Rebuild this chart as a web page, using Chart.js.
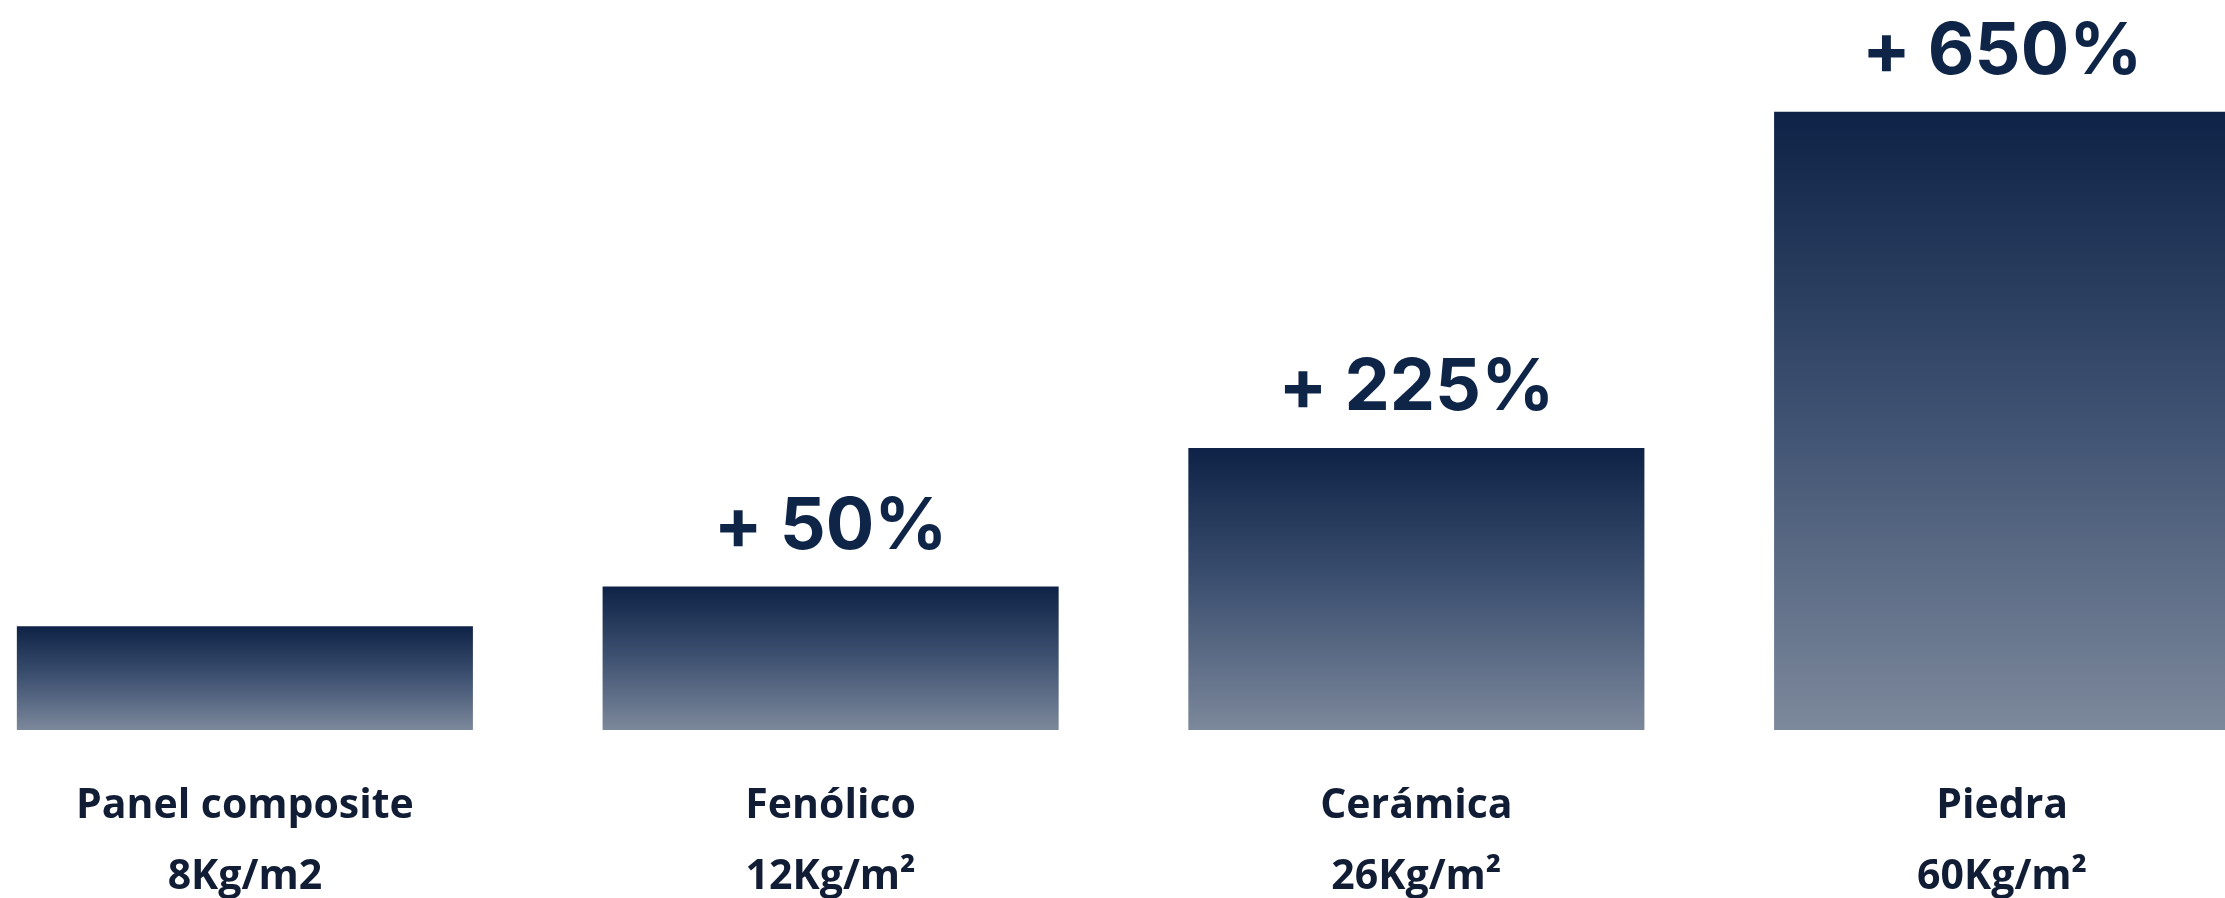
<!DOCTYPE html>
<html lang="es">
<head>
<meta charset="utf-8">
<title>Peso por m² de fachada</title>
<script src="https://cdn.jsdelivr.net/npm/chart.js@4.4.1/dist/chart.umd.min.js"></script>
<style>
  html, body { margin: 0; padding: 0; background: #fff; }
  #frame { position: relative; width: 2225px; height: 898px; overflow: hidden; }
  /* el área del gráfico es algo más ancha que la ventana: la última barra queda cortada */
  #wrap { position: absolute; left: -48px; top: 0; width: 2343px; height: 898px; }
</style>
</head>
<body>
<div id="frame"><div id="wrap"><canvas id="chart"></canvas></div></div>
<script>
  // datos
  const materials = ["Panel composite", "Fenólico", "Cerámica", "Piedra"];
  const weightLabels = ["8Kg/m2", "12Kg/m²", "26Kg/m²", "60Kg/m²"];
  const weights = [8, 12, 26, 60];
  const increaseLabels = ["", "+ 50%", "+ 225%", "+ 650%"];

  const AXIS_MIN = -2.5;
  const AXIS_MAX = 71.3;

  const NAVY = "#0d2246";
  const GREY = "#7c889b";

  function barGradient(ctx) {
    const chart = ctx.chart;
    if (!chart.chartArea || ctx.type !== "data") return NAVY;
    const y = chart.scales.y;
    const top = y.getPixelForValue(weights[ctx.dataIndex]);
    const bottom = y.getPixelForValue(AXIS_MIN);
    const g = chart.ctx.createLinearGradient(0, top, 0, bottom);
    g.addColorStop(0, NAVY);
    g.addColorStop(0.5, "#3f5272");
    g.addColorStop(1, GREY);
    return g;
  }

  // etiquetas "+ x%" encima de cada barra
  const increaseLabelPlugin = {
    id: "increaseLabels",
    afterDatasetsDraw(chart) {
      const ctx = chart.ctx;
      const meta = chart.getDatasetMeta(0);
      ctx.save();
      ctx.fillStyle = "#0f2548";
      ctx.font = "700 72px Inter";
      ctx.textAlign = "center";
      ctx.textBaseline = "alphabetic";
      meta.data.forEach((bar, i) => {
        if (!increaseLabels[i]) return;
        ctx.fillText(increaseLabels[i], bar.x, bar.y - 38);
      });
      ctx.restore();
    },
  };

  new Chart(document.getElementById("chart"), {
    type: "bar",
    data: {
      labels: materials.map((m, i) => [m, weightLabels[i]]),
      datasets: [{
        label: "Peso",
        data: weights,
        base: AXIS_MIN,
        backgroundColor: barGradient,
        borderWidth: 0,
        categoryPercentage: 1,
        barPercentage: 0.7786,
      }],
    },
    options: {
      responsive: true,
      maintainAspectRatio: false,
      animation: false,
      layout: { padding: 0 },
      plugins: { legend: { display: false }, tooltip: { enabled: false } },
      scales: {
        x: {
          grid: { display: false, drawTicks: false },
          border: { display: false },
          afterFit(scale) { scale.height = 168; },
          ticks: {
            color: "#111d35",
            padding: 41,
            font: { family: "Open Sans", size: 41, weight: "bold", lineHeight: 1.727 },
          },
        },
        y: { display: false, min: AXIS_MIN, max: AXIS_MAX },
      },
    },
    plugins: [increaseLabelPlugin],
  });
</script>
</body>
</html>
